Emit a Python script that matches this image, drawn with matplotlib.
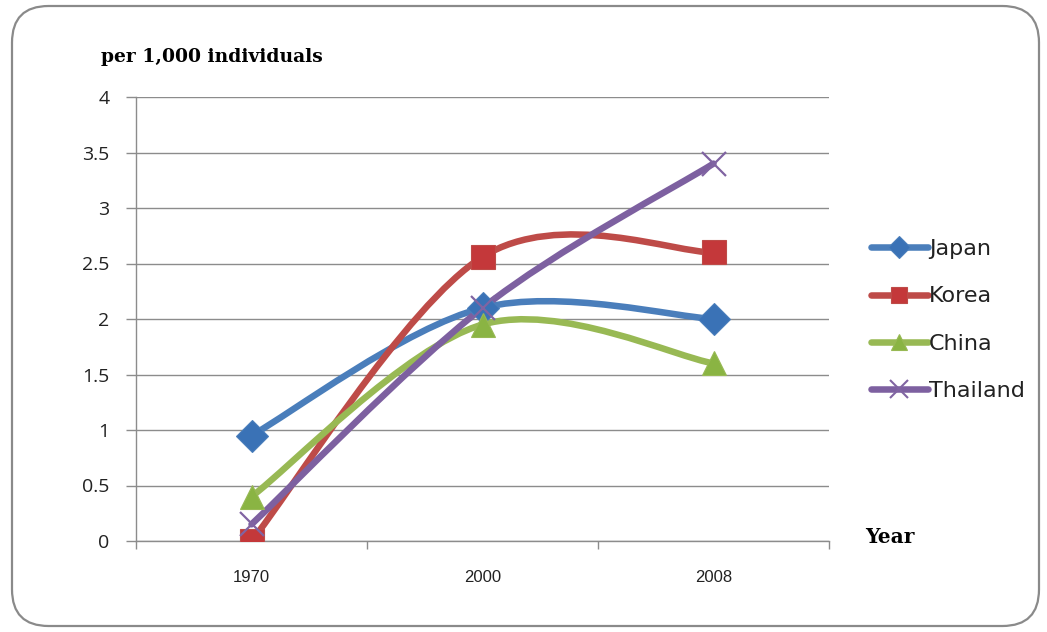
import numpy as np
import matplotlib
matplotlib.use("Agg")
import matplotlib.pyplot as plt
from matplotlib.path import Path
from matplotlib.patches import PathPatch, FancyBboxPatch
from matplotlib.lines import Line2D

years = ["1970", "2000", "2008"]
countries = ["Japan", "Korea", "China", "Thailand"]
japan = [0.95, 2.1, 2.0]
korea = [0.0, 2.56, 2.6]
china = [0.4, 1.95, 1.6]
thailand = [0.15, 2.1, 3.4]
y_ticks = [0, 0.5, 1, 1.5, 2, 2.5, 3, 3.5, 4]

series = [japan, korea, china, thailand]
line_colors = ["#4A7EBB", "#BE4B48", "#98B954", "#7D60A0"]
marker_colors = ["#3A72B6", "#C4383A", "#8AB443", "#8064A2"]
markers = ["D", "s", "^", "x"]
marker_sizes = [16, 17, 17, 17]


def smooth_path(xs, ys):
    """Cubic Bezier through the points (Catmull-Rom style, as spreadsheet 'smoothed lines')."""
    pts = np.column_stack([xs, ys]).astype(float)
    n = len(pts)
    verts = [pts[0]]
    codes = [Path.MOVETO]
    for i in range(n - 1):
        p_prev = pts[i - 1] if i > 0 else pts[i]
        p0, p1 = pts[i], pts[i + 1]
        p_next = pts[i + 2] if i + 2 < n else pts[i + 1]
        c1 = p0 + (p1 - p_prev) / 6.0
        c2 = p1 - (p_next - p0) / 6.0
        verts += [c1, c2, p1]
        codes += [Path.CURVE4] * 3
    return Path(verts, codes)


fig = plt.figure(figsize=(10.47, 6.32), dpi=100)
fig.patch.set_facecolor("white")

# rounded chart frame
frame = FancyBboxPatch((12 / 1047, 6 / 632), 1027 / 1047, 620 / 632,
                       boxstyle="round,pad=0,rounding_size=0.035",
                       transform=fig.transFigure, facecolor="none",
                       edgecolor="#8a8a8a", linewidth=1.6, zorder=0,
                       mutation_aspect=1047 / 632)
fig.patches.append(frame)

ax = fig.add_axes([136 / 1047, 1 - 541 / 632, 693 / 1047, 444 / 632])
x = np.arange(len(years))

for vals, lc, mc, mk, ms, name in zip(series, line_colors, marker_colors,
                                      markers, marker_sizes, countries):
    patch = PathPatch(smooth_path(x, vals), facecolor="none", edgecolor=lc,
                      linewidth=4.7, capstyle="round", joinstyle="round", zorder=3)
    ax.add_patch(patch)
    if mk == "x":
        ax.plot(x, vals, linestyle="none", marker=mk, markersize=ms,
                markeredgecolor=mc, markeredgewidth=1.6, zorder=4)
    else:
        ax.plot(x, vals, linestyle="none", marker=mk, markersize=ms,
                markerfacecolor=mc, markeredgecolor=lc, markeredgewidth=0.8,
                zorder=4)

ax.set_xlim(-0.5, 2.5)
ax.set_ylim(0, 4)
ax.set_yticks(y_ticks)
ax.set_yticklabels([f"{v:g}" for v in y_ticks], fontsize=14, family="Open Sans",
                   color="#222222")
ax.yaxis.grid(True, color="#8c8c8c", linewidth=1.0)
ax.set_axisbelow(True)

ax.set_xticks([-0.5, 0.5, 1.5, 2.5])
ax.set_xticklabels([])
ax.set_xticks(x, minor=True)
ax.set_xticklabels(years, minor=True, fontsize=12, family="Liberation Sans",
                   color="#222222")
ax.tick_params(axis="x", which="major", length=6, color="#8c8c8c", width=1.0)
ax.tick_params(axis="x", which="minor", length=0, pad=21)
ax.tick_params(axis="y", length=7, color="#8c8c8c", width=1.0, pad=12)

for side in ["top", "right"]:
    ax.spines[side].set_visible(False)
for side in ["left", "bottom"]:
    ax.spines[side].set_color("#8c8c8c")
    ax.spines[side].set_linewidth(1.0)

# axis captions
fig.text(101 / 1047, 1 - 57 / 632, "per 1,000 individuals", fontsize=13.5,
         family="DejaVu Serif", fontweight="bold", va="center", ha="left")
fig.text(865 / 1047, 1 - 537 / 632, "Year", fontsize=14.5,
         family="DejaVu Serif", fontweight="bold", va="center", ha="left")

handles = []
for lc, mc, mk, ms, name in zip(line_colors, marker_colors, markers,
                                marker_sizes, countries):
    if mk == "x":
        h = Line2D([], [], color=lc, linewidth=4.7, solid_capstyle="round",
                   marker=mk, markersize=ms * 0.75, markeredgecolor=mc,
                   markeredgewidth=1.5)
    else:
        h = Line2D([], [], color=lc, linewidth=4.7, solid_capstyle="round",
                   marker=mk, markersize=ms * 0.7, markerfacecolor=mc,
                   markeredgecolor=lc, markeredgewidth=0.8)
    handles.append(h)

leg = fig.legend(handles, countries, loc="center left",
                 bbox_to_anchor=(871 / 1047, 1 - 320 / 632), frameon=False,
                 prop={"family": "DejaVu Sans", "size": 16},
                 handlelength=2.55, handletextpad=0.05, labelspacing=1.23,
                 borderpad=0, borderaxespad=0)
for t in leg.get_texts():
    t.set_color("#222222")

fig.savefig("out.png", dpi=100, facecolor="white")
